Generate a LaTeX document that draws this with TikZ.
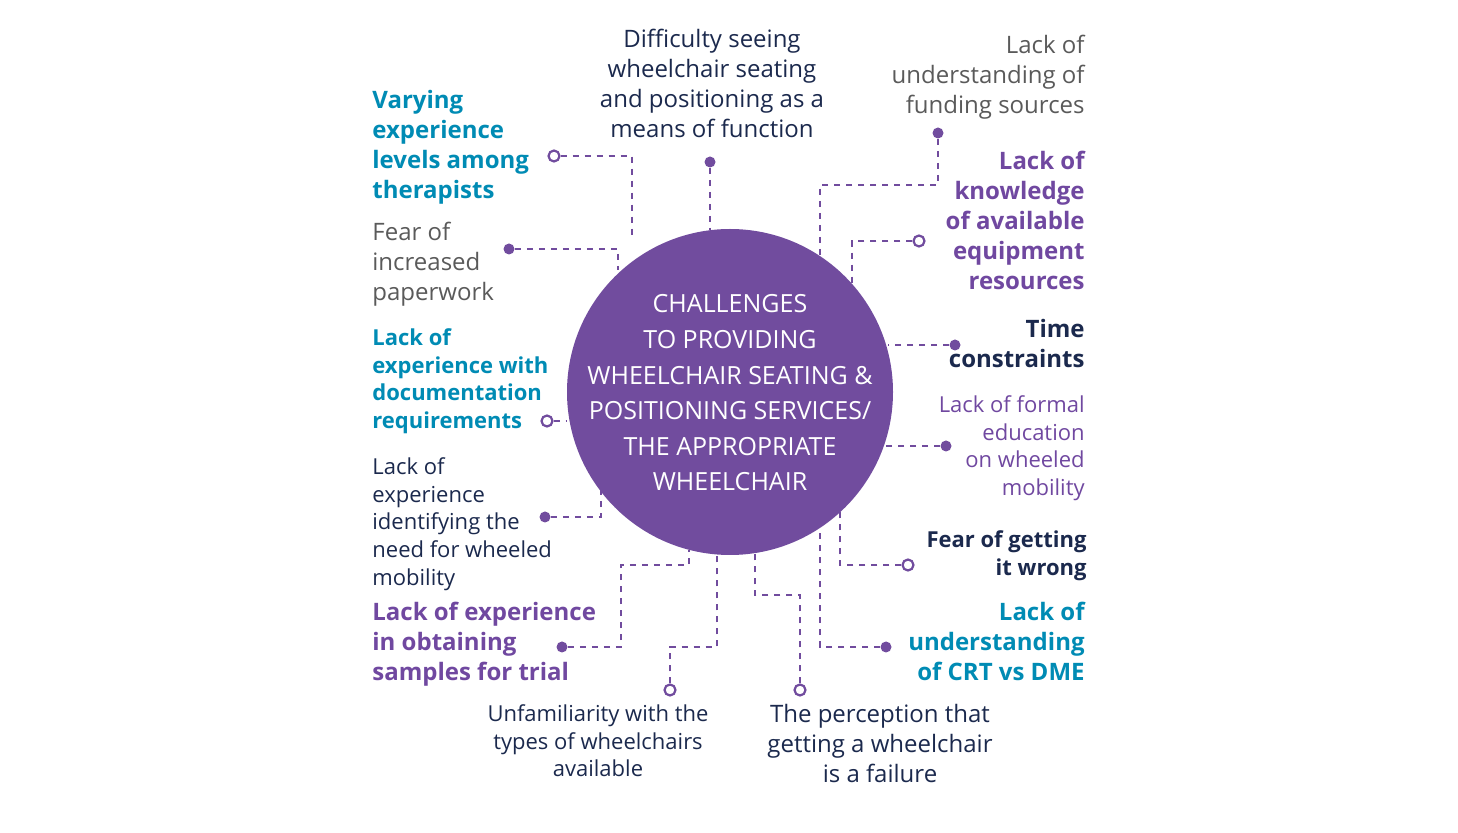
\documentclass[tikz,border=0pt]{standalone}
\usepackage{fontspec}
\setmainfont{Open Sans}
\definecolor{circcol}{RGB}{113,76,158}
\definecolor{tealcol}{RGB}{0,139,180}
\definecolor{navycol}{RGB}{27,41,77}
\definecolor{greycol}{RGB}{90,90,90}
\definecolor{purpcol}{RGB}{112,72,160}
\tikzset{
  lbl/.style={inner sep=0pt, font=\fontsize{12}{15}\selectfont},
  sml/.style={inner sep=0pt, font=\fontsize{11}{13.9}\selectfont},
  dotf/.style={circle, fill=circcol, minimum size=5.5pt, inner sep=0pt},
  doto/.style={circle, draw=circcol, fill=white, line width=1.1pt, minimum size=5.5pt, inner sep=0pt},
  conn/.style={circcol, dashed, line width=0.7pt}
}
\begin{document}
\begin{tikzpicture}[x=0.5pt,y=-0.5pt]
    \useasboundingbox (0,0) rectangle (1458,833);

    % Central circle
    \fill[circcol] (730,392) circle (81.5pt);
    \node[text=white, align=center, font=\fontsize{12.5}{17.8}\selectfont] (hub) at (730,393)
        {CHALLENGES\\TO PROVIDING\\WHEELCHAIR SEATING \&\\POSITIONING SERVICES/\\THE APPROPRIATE\\WHEELCHAIR};

    % End points on the circle
    \coordinate (e1) at (632,240);
    \coordinate (e2) at (710,230);
    \coordinate (e3) at (820,255);
    \coordinate (e4) at (852,285);
    \coordinate (e5) at (888,345);
    \coordinate (e6) at (885,446);
    \coordinate (e7) at (840,510);
    \coordinate (e8) at (820,525);
    \coordinate (e9) at (755,553);
    \coordinate (e10) at (717,555);
    \coordinate (e11) at (689,550);
    \coordinate (e12) at (601,490);
    \coordinate (e13) at (567,421);
    \coordinate (e14) at (618,270);

    % Labels
    \node[lbl, text=tealcol, anchor=north west, align=left] (t1) at (372,90)
        {\bfseries Varying\\ \bfseries experience\\ \bfseries levels among\\ \bfseries therapists};
    \node[lbl, text=navycol, anchor=north, align=center] (t2) at (712,29)
        {Difficulty seeing\\wheelchair seating\\and positioning as a\\means of function};
    \node[lbl, text=greycol, anchor=north east, align=right] (t3) at (1085,35)
        {Lack of\\understanding of\\funding sources};
    \node[lbl, text=purpcol, anchor=north east, align=right] (t4) at (1085,151)
        {\bfseries Lack of\\ \bfseries knowledge\\ \bfseries of available\\ \bfseries equipment\\ \bfseries resources};
    \node[lbl, text=navycol, anchor=north east, align=right] (t5) at (1085,319)
        {\bfseries Time\\ \bfseries constraints};
    \node[sml, text=purpcol, anchor=north east, align=right] (t6) at (1085,395)
        {Lack of formal\\education\\on wheeled\\mobility};
    \node[sml, text=navycol, anchor=north east, align=right] (t7) at (1087,530)
        {\bfseries Fear of getting\\ \bfseries it wrong};
    \node[lbl, text=tealcol, anchor=north east, align=right] (t8) at (1085,602)
        {\bfseries Lack of\\ \bfseries understanding\\ \bfseries of CRT vs DME};
    \node[lbl, text=navycol, anchor=north, align=center] (t9) at (880,704)
        {The perception that\\getting a wheelchair\\is a failure};
    \node[sml, text=navycol, anchor=north, align=center] (t10) at (598,704)
        {Unfamiliarity with the\\types of wheelchairs\\available};
    \node[lbl, text=purpcol, anchor=north west, align=left] (t11) at (372,602)
        {\bfseries Lack of experience\\ \bfseries in obtaining\\ \bfseries samples for trial};
    \node[sml, text=navycol, anchor=north west, align=left] (t12) at (372,457)
        {Lack of\\experience\\identifying the\\need for wheeled\\mobility};
    \node[sml, text=tealcol, anchor=north west, align=left] (t13) at (372,328)
        {\bfseries Lack of\\ \bfseries experience with\\ \bfseries documentation\\ \bfseries requirements};
    \node[lbl, text=greycol, anchor=north west, align=left] (t14) at (372,222)
        {Fear of\\increased\\paperwork};

    % Dots
    \node[doto] (d1) at (554,156) {};
    \node[dotf] (d2) at (710,162) {};
    \node[dotf] (d3) at (938,133) {};
    \node[doto] (d4) at (919,241) {};
    \node[dotf] (d5) at (955,345) {};
    \node[dotf] (d6) at (946,446) {};
    \node[doto] (d7) at (908,565) {};
    \node[dotf] (d8) at (886,647) {};
    \node[doto] (d9) at (800,690) {};
    \node[doto] (d10) at (670,690) {};
    \node[dotf] (d11) at (562,647) {};
    \node[dotf] (d12) at (545,517) {};
    \node[doto] (d13) at (547,421) {};
    \node[dotf] (d14) at (509,249) {};

    % Connectors
    \draw[conn] (d1) -| (e1);
    \draw[conn] (d2) -- (e2);
    \draw[conn] (d3) |- (820,185) -- (e3);
    \draw[conn] (d4) -| (e4);
    \draw[conn] (d5) -- (e5);
    \draw[conn] (d6) -- (e6);
    \draw[conn] (d7) -| (e7);
    \draw[conn] (d8) -| (e8);
    \draw[conn] (d9) |- (755,595) -- (e9);
    \draw[conn] (d10) |- (717,647) -- (e10);
    \draw[conn] (d11) -| (621,565) -| (e11);
    \draw[conn] (d12) -| (e12);
    \draw[conn] (d13) -- (e13);
    \draw[conn] (d14) -| (e14);

\end{tikzpicture}
\end{document}
